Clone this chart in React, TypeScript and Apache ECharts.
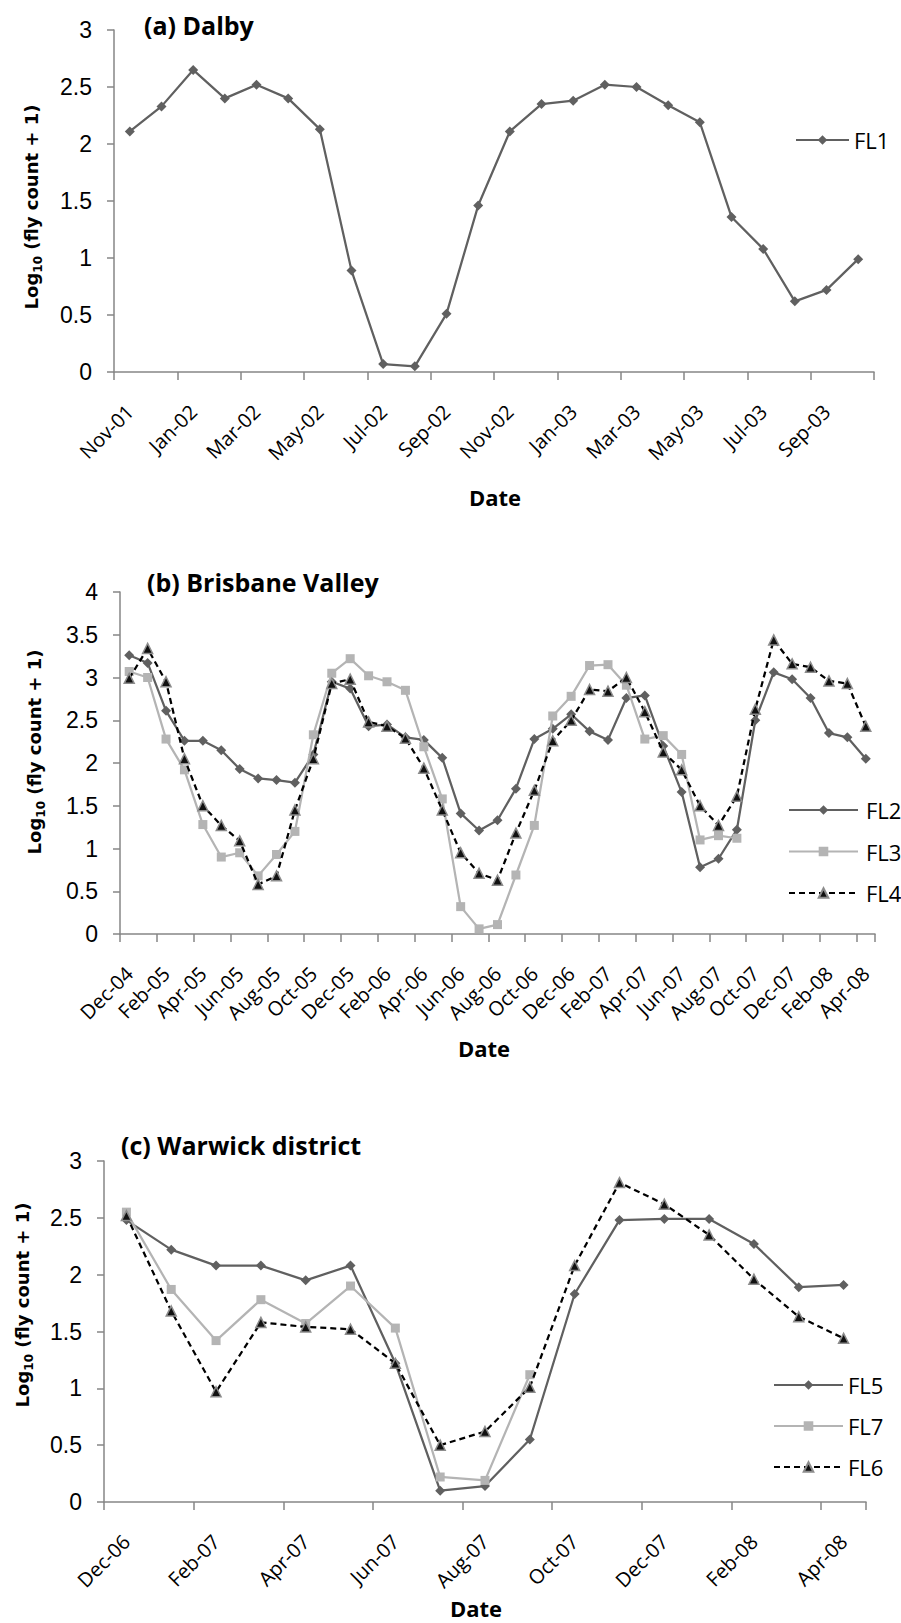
import React, { useEffect, useRef } from "react";
import * as echarts from "echarts";

// ---------- data ----------
const datesA = [
  "Nov-01", "Dec-01", "Jan-02", "Feb-02", "Mar-02", "Apr-02", "May-02", "Jun-02",
  "Jul-02", "Aug-02", "Sep-02", "Oct-02", "Nov-02", "Dec-02", "Jan-03", "Feb-03",
  "Mar-03", "Apr-03", "May-03", "Jun-03", "Jul-03", "Aug-03", "Sep-03", "Oct-03",
];
const fl1 = [
  2.11, 2.33, 2.65, 2.40, 2.52, 2.40, 2.13, 0.89, 0.07, 0.05, 0.51, 1.46,
  2.11, 2.35, 2.38, 2.52, 2.50, 2.34, 2.19, 1.36, 1.08, 0.62, 0.72, 0.99,
];

const datesB = [
  "Dec-04", "Jan-05", "Feb-05", "Mar-05", "Apr-05", "May-05", "Jun-05", "Jul-05",
  "Aug-05", "Sep-05", "Oct-05", "Nov-05", "Dec-05", "Jan-06", "Feb-06", "Mar-06",
  "Apr-06", "May-06", "Jun-06", "Jul-06", "Aug-06", "Sep-06", "Oct-06", "Nov-06",
  "Dec-06", "Jan-07", "Feb-07", "Mar-07", "Apr-07", "May-07", "Jun-07", "Jul-07",
  "Aug-07", "Sep-07", "Oct-07", "Nov-07", "Dec-07", "Jan-08", "Feb-08", "Mar-08",
  "Apr-08",
];
const fl2 = [
  3.26, 3.17, 2.61, 2.26, 2.26, 2.15, 1.93, 1.82, 1.80, 1.77, 2.10, 2.95,
  2.87, 2.43, 2.45, 2.30, 2.27, 2.06, 1.41, 1.21, 1.33, 1.70, 2.28, 2.40,
  2.57, 2.37, 2.27, 2.76, 2.79, 2.20, 1.66, 0.78, 0.88, 1.22, 2.50, 3.06,
  2.98, 2.76, 2.35, 2.30, 2.05,
];
const fl3 = [
  3.07, 3.00, 2.28, 1.92, 1.28, 0.90, 0.95, 0.68, 0.93, 1.20, 2.33, 3.05,
  3.22, 3.02, 2.95, 2.85, 2.19, 1.58, 0.32, 0.06, 0.11, 0.69, 1.27, 2.55,
  2.78, 3.14, 3.15, 2.91, 2.28, 2.32, 2.10, 1.10, 1.15, 1.12, null, null,
  null, null, null, null, null,
];
const fl4 = [
  2.99, 3.34, 2.95, 2.05, 1.50, 1.27, 1.09, 0.58, 0.68, 1.45, 2.05, 2.93,
  2.98, 2.48, 2.43, 2.29, 1.94, 1.45, 0.95, 0.71, 0.63, 1.18, 1.68, 2.26,
  2.50, 2.86, 2.84, 3.00, 2.60, 2.13, 1.92, 1.50, 1.27, 1.61, 2.63, 3.44,
  3.16, 3.12, 2.96, 2.93, 2.43,
];

const datesC = [
  "Dec-06", "Jan-07", "Feb-07", "Mar-07", "Apr-07", "May-07", "Jun-07", "Jul-07",
  "Aug-07", "Sep-07", "Oct-07", "Nov-07", "Dec-07", "Jan-08", "Feb-08", "Mar-08",
  "Apr-08",
];
const fl5 = [
  2.48, 2.22, 2.08, 2.08, 1.95, 2.08, 1.22, 0.10, 0.14, 0.55, 1.83, 2.48,
  2.49, 2.49, 2.27, 1.89, 1.91,
];
const fl7 = [
  2.55, 1.87, 1.42, 1.78, 1.57, 1.90, 1.53, 0.22, 0.19, 1.12, null, null,
  null, null, null, null, null,
];
const fl6 = [
  2.52, 1.68, 0.97, 1.58, 1.54, 1.52, 1.22, 0.50, 0.62, 1.01, 2.08, 2.81,
  2.62, 2.35, 1.96, 1.63, 1.44,
];

const yMaxA = 3;
const yMaxB = 4;
const yMaxC = 3;
const yStep = 0.5;

// ---------- styles ----------
const AXIS = "#868686";
const DARK = "#606060";
const LIGHT = "#b4b4b4";

const panels = [
  { grid: { left: 114, top: 30, width: 760, height: 342 }, dates: datesA, yMax: yMaxA },
  { grid: { left: 120, top: 592, width: 755, height: 342 }, dates: datesB, yMax: yMaxB },
  { grid: { left: 104, top: 1161, width: 762, height: 341 }, dates: datesC, yMax: yMaxC },
];

const darkSeries = (name: string, data: (number | null)[], idx: number) => ({
  name,
  type: "line",
  xAxisIndex: idx,
  yAxisIndex: idx,
  data,
  symbol: "diamond",
  symbolSize: 10,
  lineStyle: { color: DARK, width: 2.25 },
  itemStyle: { color: DARK },
  z: 2,
});
const lightSeries = (name: string, data: (number | null)[], idx: number) => ({
  name,
  type: "line",
  xAxisIndex: idx,
  yAxisIndex: idx,
  data,
  symbol: "rect",
  symbolSize: 9,
  lineStyle: { color: LIGHT, width: 2.25 },
  itemStyle: { color: LIGHT },
  z: 3,
});
const dashSeries = (name: string, data: (number | null)[], idx: number) => ({
  name,
  type: "line",
  xAxisIndex: idx,
  yAxisIndex: idx,
  data,
  symbol: "triangle",
  symbolSize: 10,
  lineStyle: { color: "#000", width: 2.25, type: [6, 4] },
  itemStyle: { color: "#111", borderColor: "#8c8c8c", borderWidth: 1.5 },
  z: 4,
});

const yTitle = (x: number, y: number) => ({
  type: "text",
  x,
  y,
  rotation: Math.PI / 2,
  style: {
    text: "{b|Log}{s|10}{b| (fly count + 1)}",
    textAlign: "center",
    textVerticalAlign: "middle",
    fill: "#000",
    rich: {
      b: { fontFamily: "DejaVu Sans", fontWeight: "bold", fontSize: 18, lineHeight: 26, verticalAlign: "middle", fill: "#000" },
      s: { fontFamily: "DejaVu Sans", fontWeight: "bold", fontSize: 12, lineHeight: 14, verticalAlign: "bottom", fill: "#000" },
    },
  },
});

const textG = (text: string, x: number, y: number, size: number, align = "left") => ({
  type: "text",
  x,
  y,
  style: {
    text,
    fill: "#000",
    font: `bold ${size}px "Open Sans"`,
    textAlign: align,
    textVerticalAlign: "middle",
  },
});

export default function App() {
  const ref = useRef<HTMLDivElement>(null);
  useEffect(() => {
    const chart = echarts.init(ref.current!, null, { renderer: "svg" });
    const option: any = {
      animation: false,
      backgroundColor: "#fff",
      grid: panels.map((p) => ({ ...p.grid, containLabel: false })),
      xAxis: panels.map((p, i) => ({
        type: "category",
        gridIndex: i,
        data: p.dates,
        boundaryGap: true,
        axisLine: { lineStyle: { color: AXIS, width: 1.5 } },
        axisTick: { show: true, interval: 1, length: 8, lineStyle: { color: AXIS, width: 1.5 } },
        axisLabel: {
          interval: 1,
          rotate: 45,
          margin: 36,
          fontFamily: "Open Sans",
          fontSize: 20,
          color: "#000",
        },
        splitLine: { show: false },
      })),
      yAxis: panels.map((p, i) => ({
        type: "value",
        gridIndex: i,
        min: 0,
        max: p.yMax,
        interval: yStep,
        axisLine: { show: true, lineStyle: { color: AXIS, width: 1.5 } },
        axisTick: { show: true, length: 7, lineStyle: { color: AXIS, width: 1.5 } },
        axisLabel: {
          margin: 22,
          fontFamily: "Liberation Sans",
          fontSize: 23,
          color: "#000",
        },
        splitLine: { show: false },
      })),
      legend: [
        {
          data: ["FL1"],
          orient: "vertical",
          left: 795,
          top: 129,
          padding: 0,
          itemWidth: 53,
          itemHeight: 12,
          textStyle: { fontFamily: "Open Sans", fontSize: 22, color: "#000", lineHeight: 22 },
        },
        {
          data: ["FL2", "FL3", "FL4"],
          orient: "vertical",
          left: 788,
          top: 799,
          padding: 0,
          itemGap: 19.5,
          itemWidth: 69,
          itemHeight: 12,
          textStyle: { fontFamily: "Open Sans", fontSize: 22, color: "#000", lineHeight: 22, padding: [0, 0, 0, 3] },
        },
        {
          data: ["FL5", "FL7", "FL6"],
          orient: "vertical",
          left: 773,
          top: 1374,
          padding: 0,
          itemGap: 19,
          itemWidth: 69,
          itemHeight: 12,
          textStyle: { fontFamily: "Open Sans", fontSize: 22, color: "#000", lineHeight: 22 },
        },
      ],
      series: [
        darkSeries("FL1", fl1, 0),
        darkSeries("FL2", fl2, 1),
        lightSeries("FL3", fl3, 1),
        dashSeries("FL4", fl4, 1),
        darkSeries("FL5", fl5, 2),
        lightSeries("FL7", fl7, 2),
        dashSeries("FL6", fl6, 2),
      ],
      graphic: [
        textG("(a) Dalby", 144, 25, 25),
        textG("(b) Brisbane Valley", 147, 582, 25),
        textG("(c) Warwick district", 121, 1145, 25),
        textG("Date", 495, 497, 22, "center"),
        textG("Date", 484, 1048, 22, "center"),
        textG("Date", 476, 1608, 22, "center"),
        yTitle(31, 207),
        yTitle(34, 752),
        yTitle(22, 1305),
      ],
    };
    chart.setOption(option);
    return () => chart.dispose();
  }, []);
  return (
    <div
      ref={ref}
      style={{ position: "absolute", left: 0, top: 0, width: 901, height: 1623, background: "#fff" }}
    />
  );
}
